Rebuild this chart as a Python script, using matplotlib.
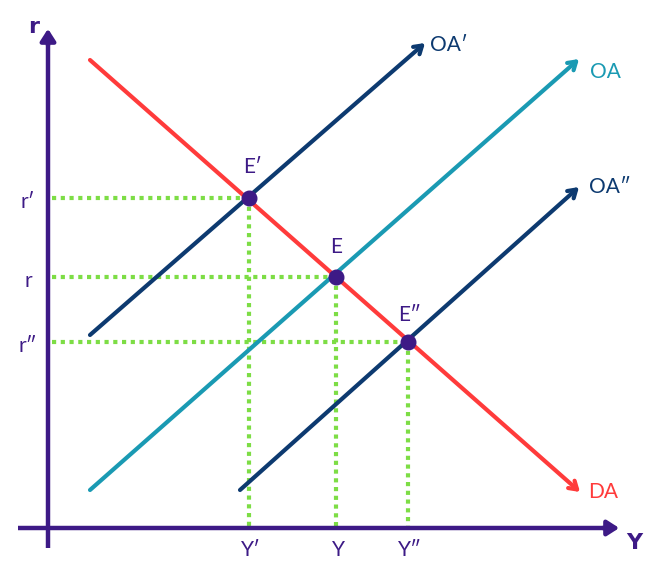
import matplotlib
matplotlib.use("Agg")
import matplotlib.pyplot as plt

# chart units: origin at the axes crossing, x to the right, y upward
curve_names = ["DA", "OA", "OA′", "OA″"]
curve_start = [(42, 468), (42, 38), (42, 193), (192, 38)]
curve_end = [(532, 36), (531, 469), (377, 485), (531, 341)]
curve_colors = ["#ff3b3b", "#1a9ab3", "#0d3a70", "#0d3a70"]
label_pos = [(540, 36), (542, 456), (382, 483), (541, 341)]

point_names = ["E′", "E", "E″"]
point_x = [201, 288, 360]
point_y = [330, 251, 186]
point_label_pos = [(205, 361), (288, 281), (362, 213)]

r_labels = ["r′", "r", "r″"]
y_labels = ["Y′", "Y", "Y″"]

AX = "#3d1a86"
GREEN = "#7ddd45"
FONT = "Lato"

fig = plt.figure(figsize=(6.54, 5.77), dpi=100)
ax = fig.add_axes([0, 0, 1, 1])
ax.set_xlim(-48, 606)
ax.set_ylim(-49, 528)
ax.axis("off")

# axes with arrowheads
ax.plot([0, 0], [-20, 490], color=AX, lw=3.2, solid_capstyle="butt", zorder=2)
ax.plot([-30, 560], [0, 0], color=AX, lw=3.2, solid_capstyle="butt", zorder=2)
ax.annotate("", xy=(0, 502), xytext=(0, 480),
            arrowprops=dict(arrowstyle="-|>,head_length=0.7,head_width=0.45", color=AX, lw=3.2))
ax.annotate("", xy=(574, 0), xytext=(552, 0),
            arrowprops=dict(arrowstyle="-|>,head_length=0.7,head_width=0.45", color=AX, lw=3.2))
ax.text(-14, 501, "r", color=AX, fontsize=16, fontweight="bold", family="DejaVu Sans",
        ha="center", va="center")
ax.text(586, -15, "Y", color=AX, fontsize=16, fontweight="bold", family="DejaVu Sans",
        ha="center", va="center")

# green dotted guides
for px, py, rl, yl in zip(point_x, point_y, r_labels, y_labels):
    ax.plot([4, px], [py, py], color=GREEN, lw=3, linestyle=(0, (1, 1.1)), zorder=1)
    ax.plot([px, px], [py, 2], color=GREEN, lw=3, linestyle=(0, (1, 1.1)), zorder=1)
    ax.text(-20, py - 4, rl, color=AX, fontsize=15, family=FONT, ha="center", va="center")
    ax.text(px + 2, -22, yl, color=AX, fontsize=15, family=FONT, ha="center", va="center")

# curves
for name, s, e, c, lp in zip(curve_names, curve_start, curve_end, curve_colors, label_pos):
    ax.annotate("", xy=e, xytext=s,
                arrowprops=dict(arrowstyle="->,head_length=0.55,head_width=0.35", color=c, lw=3,
                                shrinkA=0, shrinkB=0), zorder=3)
    ax.text(lp[0], lp[1], name, color=c, fontsize=15, family=FONT, ha="left", va="center")

# equilibrium points
ax.plot(point_x, point_y, "o", color=AX, markersize=10.5, zorder=5)
for n, (lx, ly) in zip(point_names, point_label_pos):
    ax.text(lx, ly, n, color=AX, fontsize=15, family=FONT, ha="center", va="center")

fig.savefig("out.png", dpi=100)
